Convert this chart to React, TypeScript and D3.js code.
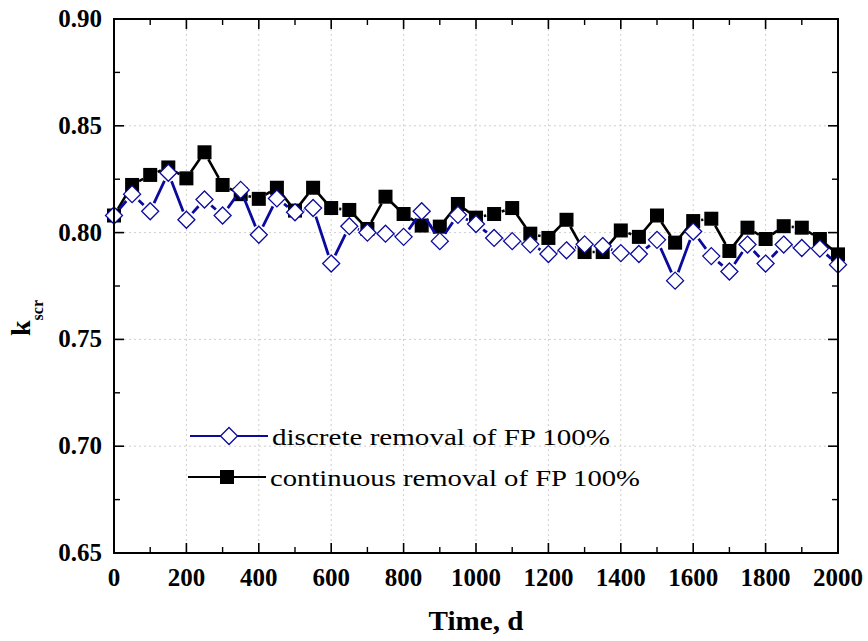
import React from "react";
import * as d3 from "d3";

const days = d3.range(0, 2001, 50);
const discrete = [
  0.808, 0.818, 0.810, 0.828, 0.806, 0.8155, 0.808, 0.820, 0.799, 0.816,
  0.8095, 0.8115, 0.7855, 0.803, 0.800, 0.7995, 0.798, 0.810, 0.796, 0.8083,
  0.804, 0.7975, 0.796, 0.7945, 0.790, 0.7917, 0.7945, 0.7937, 0.7904, 0.790,
  0.7966, 0.7775, 0.8005, 0.789, 0.7818, 0.7944, 0.7855, 0.7944, 0.7928, 0.7925,
  0.785,
];
const continuous = [
  0.808, 0.8223, 0.827, 0.8305, 0.8254, 0.8376, 0.8223, 0.818, 0.8158, 0.821,
  0.8103, 0.821, 0.8115, 0.8106, 0.8017, 0.8168, 0.8087, 0.8033, 0.8028, 0.8134,
  0.807, 0.8087, 0.8115, 0.7995, 0.7975, 0.806, 0.7909, 0.7909, 0.801, 0.798,
  0.808, 0.7953, 0.8054, 0.8065, 0.7914, 0.8023, 0.797, 0.803, 0.8023, 0.797,
  0.7898,
];
const xTicks = [0, 200, 400, 600, 800, 1000, 1200, 1400, 1600, 1800, 2000];
const yTicks = [0.65, 0.7, 0.75, 0.8, 0.85, 0.9];
const legendLabels = ["discrete removal of FP 100%", "continuous removal of FP 100%"];

const W = 868, H = 641;
const L = 114, R = 838, T = 19, B = 553;
const BLUE = "#0a0a9e";
const FONT = "Liberation Serif";
const MAJ = 10, MIN = 6;

function segments(pts: [number, number][], gap: number) {
  const out: string[] = [];
  for (let i = 0; i < pts.length - 1; i++) {
    const [x1, y1] = pts[i];
    const [x2, y2] = pts[i + 1];
    const dx = x2 - x1, dy = y2 - y1;
    const len = Math.hypot(dx, dy);
    if (len <= 2 * gap) continue;
    const ux = dx / len, uy = dy / len;
    out.push(`M${x1 + ux * gap},${y1 + uy * gap}L${x2 - ux * gap},${y2 - uy * gap}`);
  }
  return out.join("");
}

export default function App() {
  const x = d3.scaleLinear().domain([0, 2000]).range([L, R]);
  const y = d3.scaleLinear().domain([0.65, 0.9]).range([B, T]);
  const minorX = d3.range(100, 2000, 200);
  const minorY = d3.range(0.675, 0.9, 0.05);

  const ptsD: [number, number][] = days.map((d, i) => [x(d), y(discrete[i])]);
  const ptsC: [number, number][] = days.map((d, i) => [x(d), y(continuous[i])]);
  const diamond = (cx: number, cy: number, r = 8.5) =>
    `M${cx},${cy - r}L${cx + r},${cy}L${cx},${cy + r}L${cx - r},${cy}Z`;
  const tf = { fontFamily: FONT };

  return (
    <svg width={W} height={H} style={{ display: "block", position: "absolute", left: 0, top: 0 }}>
      <rect width={W} height={H} fill="#fff" />
      {xTicks.slice(1, -1).map((t) => (
        <line key={"gx" + t} x1={x(t)} x2={x(t)} y1={T} y2={B} stroke="#cfcfcf" strokeWidth={1} strokeDasharray="2,3" />
      ))}
      {yTicks.slice(1, -1).map((t) => (
        <line key={"gy" + t} x1={L} x2={R} y1={y(t)} y2={y(t)} stroke="#cfcfcf" strokeWidth={1} strokeDasharray="2,3" />
      ))}
      <path d={segments(ptsC, 8)} stroke="#000" strokeWidth={2.6} fill="none" />
      {ptsC.map(([cx, cy], i) => (
        <rect key={"c" + i} x={cx - 7} y={cy - 7} width={14} height={14} fill="#000" />
      ))}
      <path d={segments(ptsD, 9)} stroke={BLUE} strokeWidth={2.8} fill="none" />
      {ptsD.map(([cx, cy], i) => (
        <path key={"d" + i} d={diamond(cx, cy)} fill="#fff" stroke={BLUE} strokeWidth={1.3} />
      ))}
      <rect x={L} y={T} width={R - L} height={B - T} fill="none" stroke="#000" strokeWidth={2} />
      {xTicks.map((t) => (
        <g key={"tx" + t}>
          <line x1={x(t)} x2={x(t)} y1={B} y2={B - MAJ} stroke="#000" strokeWidth={1.6} />
          <line x1={x(t)} x2={x(t)} y1={T} y2={T + MAJ} stroke="#000" strokeWidth={1.6} />
          <text x={x(t)} y={586} textAnchor="middle" style={tf} fontWeight="bold" fontSize={25}>
            {t}
          </text>
        </g>
      ))}
      {minorX.map((t) => (
        <g key={"mx" + t}>
          <line x1={x(t)} x2={x(t)} y1={B} y2={B - MIN} stroke="#000" strokeWidth={1.4} />
          <line x1={x(t)} x2={x(t)} y1={T} y2={T + MIN} stroke="#000" strokeWidth={1.4} />
        </g>
      ))}
      {yTicks.map((t) => (
        <g key={"ty" + t}>
          <line x1={L} x2={L + MAJ} y1={y(t)} y2={y(t)} stroke="#000" strokeWidth={1.6} />
          <line x1={R} x2={R - MAJ} y1={y(t)} y2={y(t)} stroke="#000" strokeWidth={1.6} />
          <text x={102} y={y(t) + 8} textAnchor="end" style={tf} fontWeight="bold" fontSize={25}>
            {t.toFixed(2)}
          </text>
        </g>
      ))}
      {minorY.map((t) => (
        <g key={"my" + t}>
          <line x1={L} x2={L + MIN} y1={y(t)} y2={y(t)} stroke="#000" strokeWidth={1.4} />
          <line x1={R} x2={R - MIN} y1={y(t)} y2={y(t)} stroke="#000" strokeWidth={1.4} />
        </g>
      ))}
      <text x={(L + R) / 2} y={630} textAnchor="middle" style={tf} fontWeight="bold" fontSize={27}
        textLength={95} lengthAdjust="spacingAndGlyphs">
        Time, d
      </text>
      <text transform="translate(30,336) rotate(-90)" style={tf} fontWeight="bold" fontSize={28}>
        k<tspan fontSize={16} dy={13}>scr</tspan>
      </text>
      <line x1={190} x2={268} y1={436} y2={436} stroke={BLUE} strokeWidth={2.2} />
      <path d={diamond(229, 436)} fill="#fff" stroke={BLUE} strokeWidth={1.3} />
      <text x={272} y={445} style={tf} fontSize={23} textLength={338} lengthAdjust="spacingAndGlyphs">
        {legendLabels[0]}
      </text>
      <line x1={188} x2={266} y1={477} y2={477} stroke="#000" strokeWidth={2.2} />
      <rect x={220} y={470} width={14} height={14} fill="#000" />
      <text x={270} y={486} style={tf} fontSize={23} textLength={370} lengthAdjust="spacingAndGlyphs">
        {legendLabels[1]}
      </text>
    </svg>
  );
}
